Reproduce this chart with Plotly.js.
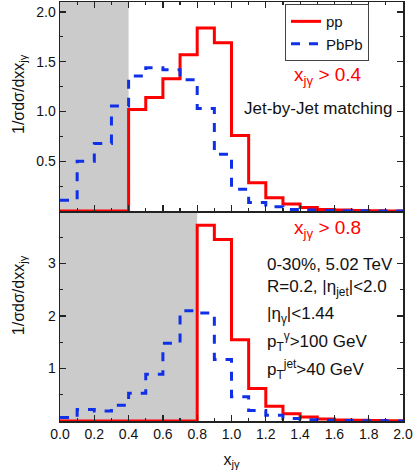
<!DOCTYPE html>
<html>
<head>
<meta charset="utf-8">
<script src="https://cdn.plot.ly/plotly-3.0.1.min.js"></script>
<style>
  html, body { margin: 0; padding: 0; background: white; }
  #chart { width: 415px; height: 475px; }
</style>
</head>
<body>
<div id="chart"></div>
<script>
// bin left edges (width 0.1), last entry closes the final bin
const EDGES = [0.0, 0.1, 0.2, 0.3, 0.4, 0.5, 0.6, 0.7, 0.8, 0.9, 1.0,
               1.1, 1.2, 1.3, 1.4, 1.5, 1.6, 1.7, 1.8, 1.9, 2.0];

// x_jγ > 0.4 panel
const PP_04   = [0, 0, 0, 0, 1.02, 1.14, 1.33, 1.57, 1.84, 1.69,
                 0.76, 0.285, 0.134, 0.07, 0.037, 0.017, 0.01, 0.006, 0.004, 0.002];
const PBPB_04 = [0.11, 0.50, 0.68, 1.055, 1.357, 1.44, 1.42, 1.32, 1.03, 0.57,
                 0.22, 0.087, 0.043, 0.017, 0.01, 0.006, 0.004, 0.003, 0.002, 0.001];

// x_jγ > 0.8 panel
const PP_08   = [0, 0, 0, 0, 0, 0, 0, 0, 3.73, 3.46,
                 1.55, 0.62, 0.28, 0.14, 0.076, 0.04, 0.02, 0.012, 0.008, 0.005];
const PBPB_08 = [0.065, 0.217, 0.19, 0.30, 0.53, 0.89, 1.48, 2.10, 2.06, 1.17,
                 0.46, 0.20, 0.11, 0.05, 0.025, 0.015, 0.01, 0.006, 0.004, 0.002];

const CUTS = [0.4, 0.8];

const FONT = "Liberation Sans, Arial, sans-serif";
const RED = "#ff0000";
const BLUE = "#1030e8";
const AXC = "#222";

// step helper: repeat last value so the last bin gets drawn
const closeBins = (v) => [...v, v[v.length - 1]];

function step(vals, name, color, dash, xa, ya, legend) {
  return {
    x: EDGES, y: closeBins(vals), name,
    type: "scatter", mode: "lines",
    line: { shape: "hv", color, width: 3, dash },
    xaxis: xa, yaxis: ya, showlegend: legend,
    hoverinfo: "skip",
  };
}

const traces = [
  step(PP_04,   "pp",   RED,  "solid", "x2", "y2", true),
  step(PBPB_04, "PbPb", BLUE, "dash",  "x2", "y2", true),
  step(PP_08,   "pp",   RED,  "solid", "x",  "y",  false),
  step(PBPB_08, "PbPb", BLUE, "dash",  "x",  "y",  false),
];

const axisBase = {
  showline: true, linecolor: AXC, linewidth: 1.5,
  ticks: "inside", ticklen: 6, tickcolor: AXC, tickwidth: 1.2,
  showgrid: false, zeroline: false,
  tickfont: { family: FONT, size: 14, color: "#111" },
};

const sub = "1/σdσ/dxx<sub>jγ</sub>";

// text placed in paper coords, always centred on the given point
function note(x, y, text, size, color, xanchor, angle) {
  return {
    xref: "paper", yref: "paper", x, y, text, showarrow: false,
    xanchor: xanchor || "center", yanchor: "middle", textangle: angle || 0,
    font: { size, color: color || "#111" },
  };
}

const layout = {
  width: 415, height: 475,
  margin: { l: 60, r: 12, t: 2, b: 54 },
  paper_bgcolor: "white", plot_bgcolor: "white",
  font: { family: FONT, color: "#111", size: 14 },
  xaxis: {
    ...axisBase, anchor: "y", domain: [0, 1], range: [0, 2],
    tickmode: "linear", tick0: 0, dtick: 0.2, tickformat: ".1f",
    minor: { dtick: 0.1, tick0: 0, ticks: "inside", ticklen: 3, tickcolor: AXC },
    mirror: false,
    title: { text: "x<sub>jγ</sub>", font: { family: FONT, size: 16 }, standoff: 12 },
  },
  xaxis2: {
    ...axisBase, anchor: "y2", matches: "x", range: [0, 2],
    tickmode: "linear", tick0: 0, dtick: 0.2, showticklabels: false,
    minor: { dtick: 0.1, tick0: 0, ticks: "inside", ticklen: 3, tickcolor: AXC },
    mirror: "ticks",
  },
  yaxis: {
    ...axisBase, anchor: "x", domain: [0, 0.501], range: [0, 4],
    tickmode: "array", tickvals: [1, 2, 3],
    minor: { dtick: 0.5, tick0: 0, ticks: "inside", ticklen: 3, tickcolor: AXC },
    mirror: "ticks",
  },
  yaxis2: {
    ...axisBase, anchor: "x2", domain: [0.501, 1], range: [0, 2.1],
    tickmode: "array", tickvals: [0.5, 1, 1.5, 2], ticktext: ["0.5", "1.0", "1.5", "2.0"],
    minor: { dtick: 0.25, tick0: 0, ticks: "inside", ticklen: 3, tickcolor: AXC },
    mirror: "ticks",
  },
  shapes: [
    { type: "rect", xref: "x2", yref: "y2 domain", x0: 0, x1: CUTS[0], y0: 0, y1: 1,
      fillcolor: "#cbcbcb", line: { width: 0 }, layer: "below" },
    { type: "rect", xref: "x", yref: "y domain", x0: 0, x1: CUTS[1], y0: 0, y1: 1,
      fillcolor: "#cbcbcb", line: { width: 0 }, layer: "below" },
  ],
  legend: {
    x: 0.656, y: 0.995, xanchor: "left", yanchor: "top",
    bgcolor: "white", bordercolor: "#444", borderwidth: 1,
    font: { family: FONT, size: 15, color: "#111" },
    tracegroupgap: 0, itemwidth: 30,
  },
  annotations: [
    note(-0.12, 0.78, sub, 16, null, "center", -90),
    note(-0.12, 0.30, sub, 16, null, "center", -90),
    note(0.781, 0.823, "x<sub>jγ</sub> > " + CUTS[0], 19, RED),
    note(0.752, 0.747, "Jet-by-Jet matching", 17),
    note(0.781, 0.458, "x<sub>jγ</sub> > " + CUTS[1], 19, RED),
    note(0.598, 0.374, "0-30%, 5.02 TeV", 17, null, "left"),
    note(0.598, 0.318, "R=0.2, |η<sub>jet</sub>|<2.0", 17, null, "left"),
    note(0.598, 0.253, "|η<sub>γ</sub>|<1.44", 17, null, "left"),
    note(0.598, 0.189, "p<sub>T</sub><sup>γ</sup>>100 GeV", 17, null, "left"),
    note(0.598, 0.124, "p<sub>T</sub><sup>jet</sup>>40 GeV", 17, null, "left"),
  ],
};

Plotly.newPlot("chart", traces, layout, { displayModeBar: false, staticPlot: true });
</script>
</body>
</html>
